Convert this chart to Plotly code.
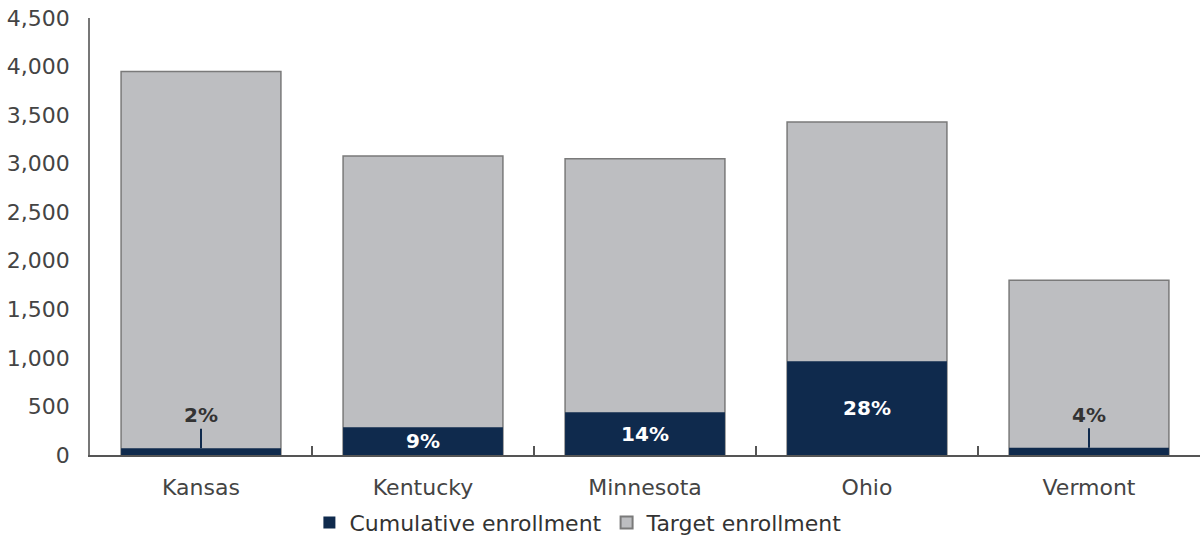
import plotly.graph_objects as go

states = ["Kansas", "Kentucky", "Minnesota", "Ohio", "Vermont"]
target = [3950, 3080, 3050, 3430, 1800]
cumulative = [70, 285, 440, 965, 75]
pct_labels = ["2%", "9%", "14%", "28%", "4%"]
y_ticks = [0, 500, 1000, 1500, 2000, 2500, 3000, 3500, 4000, 4500]

NAVY = "#0f2a4d"
GRAY = "#bdbec1"
FONT = "DejaVu Sans"

inside_text = [p if c > 200 else "" for p, c in zip(pct_labels, cumulative)]

fig = go.Figure()
fig.add_trace(go.Bar(
    x=states, y=target, name="Target enrollment",
    marker=dict(color=GRAY, line=dict(color="#7a7a7a", width=1.5)),
    width=0.72, legendrank=2, hoverinfo="skip",
))
fig.add_trace(go.Bar(
    x=states, y=cumulative, name="Cumulative enrollment",
    marker=dict(color=NAVY, line=dict(color=NAVY, width=0)),
    width=0.72, legendrank=1,
    text=inside_text, textposition="inside", insidetextanchor="middle",
    textfont=dict(family=FONT, size=20, color="white", weight="bold"),
    constraintext="none", cliponaxis=False,
))

for s, c, p in zip(states, cumulative, pct_labels):
    if c <= 200:
        fig.add_annotation(
            x=s, y=c, text=f"<b>{p}</b>", showarrow=True, arrowhead=0,
            arrowwidth=2, arrowcolor=NAVY, ax=0, ay=-33, standoff=0,
            font=dict(family=FONT, size=20, color="#333333"),
        )

fig.update_layout(
    barmode="overlay",
    width=1202, height=540,
    margin=dict(l=90, r=2, t=18, b=85, autoexpand=False),
    plot_bgcolor="white", paper_bgcolor="white",
    font=dict(family=FONT, size=20, color="#444444"),
    showlegend=True,
    legend=dict(orientation="h", x=0.44, xanchor="center",
                yref="container", y=0.032, yanchor="middle",
                font=dict(family=FONT, size=22, color="#333333"),
                itemsizing="constant", traceorder="normal"),
)
fig.update_xaxes(
    showline=True, linecolor="#555555", linewidth=1.5,
    ticks="inside", tickson="boundaries", ticklen=9, tickcolor="#555555", tickwidth=1.5,
    tickfont=dict(family=FONT, size=22, color="#444444"),
    ticklabelstandoff=12,
    showgrid=False, automargin=False,
)
fig.update_yaxes(
    range=[0, 4500], tickvals=y_ticks, tickformat=",",
    showline=True, linecolor="#777777", linewidth=1.5,
    showgrid=False, zeroline=False, ticks="",
    tickfont=dict(family=FONT, size=22, color="#444444"),
    ticklabelstandoff=14,
    automargin=False,
)

fig.write_html("out.html", config={"displayModeBar": False},
               post_script="document.body.style.margin='0';")
